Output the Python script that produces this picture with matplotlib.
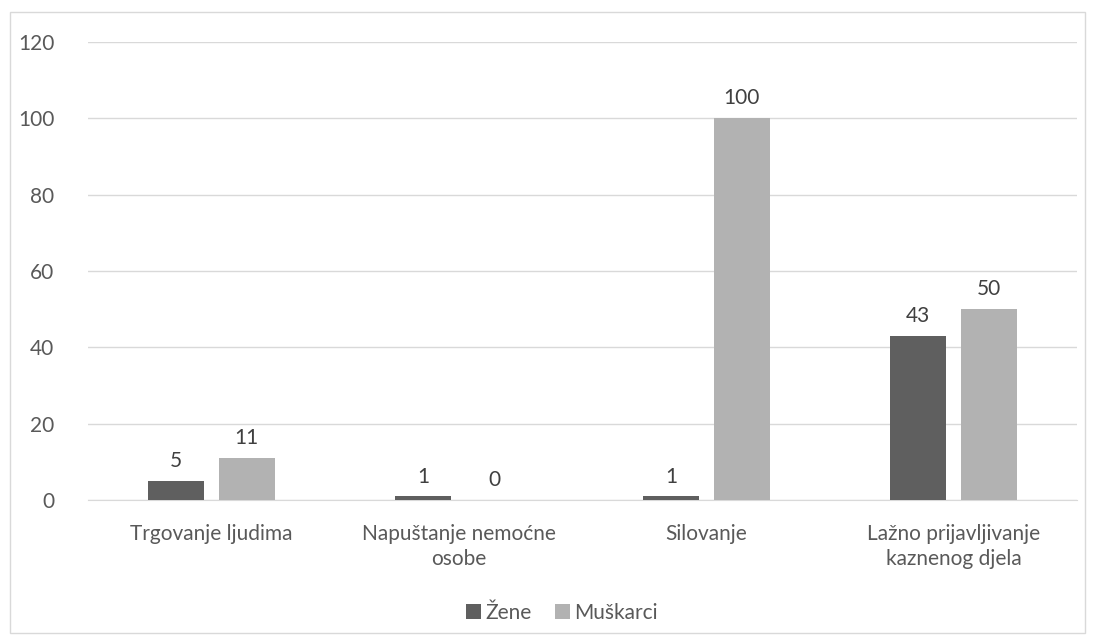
import numpy as np
import matplotlib.pyplot as plt
from matplotlib.patches import Rectangle

categories = ['Trgovanje ljudima', 'Napuštanje nemoćne\nosobe', 'Silovanje',
              'Lažno prijavljivanje\nkaznenog djela']
zene = [5, 1, 1, 43]
muskarci = [11, 0, 100, 50]
yticks = [0, 20, 40, 60, 80, 100, 120]

DARK = '#5f5f5f'
LIGHT = '#b2b2b2'
TEXT = '#595959'
FS = 15

plt.rcParams['font.family'] = ['Lato', 'DejaVu Sans']

fig = plt.figure(figsize=(10.95, 6.43), dpi=100)
ax = fig.add_axes([0.080, 0.222, 0.904, 0.713])

x = np.arange(len(categories))
w = 0.226
gap = 0.06
b1 = ax.bar(x - (w + gap) / 2, zene, w, color=DARK, label='Žene', zorder=3)
b2 = ax.bar(x + (w + gap) / 2, muskarci, w, color=LIGHT, label='Muškarci', zorder=3)

for bars, vals in ((b1, zene), (b2, muskarci)):
    for b, v in zip(bars, vals):
        ax.text(b.get_x() + b.get_width() / 2, v + 2.6, str(v), ha='center', va='bottom',
                fontsize=FS, color='#404040')

ax.set_xlim(-0.5, len(categories) - 0.5)
ax.set_ylim(0, 120)
ax.set_yticks(yticks)
ax.grid(axis='y', color='#d9d9d9', linewidth=1, zorder=0)
ax.set_xticks(x)
ax.set_xticklabels(categories, linespacing=1.3)
ax.tick_params(axis='both', length=0, labelsize=FS, labelcolor=TEXT)
ax.tick_params(axis='y', pad=24)
ax.tick_params(axis='x', pad=17)
for s in ['top', 'right', 'left']:
    ax.spines[s].set_visible(False)
ax.spines['bottom'].set_color('#d9d9d9')

leg = fig.legend(loc='center', bbox_to_anchor=(0.513, 0.047), ncol=2, frameon=False,
                 fontsize=FS, handlelength=0.75, handleheight=0.75, handletextpad=0.2,
                 columnspacing=1.1)
for t in leg.get_texts():
    t.set_color(TEXT)

fig.patches.append(Rectangle((10 / 1095, 1 - 633 / 643), 1075 / 1095, 621 / 643,
                             transform=fig.transFigure, fill=False,
                             edgecolor='#d9d9d9', linewidth=1))

fig.savefig('out.png', dpi=100)
